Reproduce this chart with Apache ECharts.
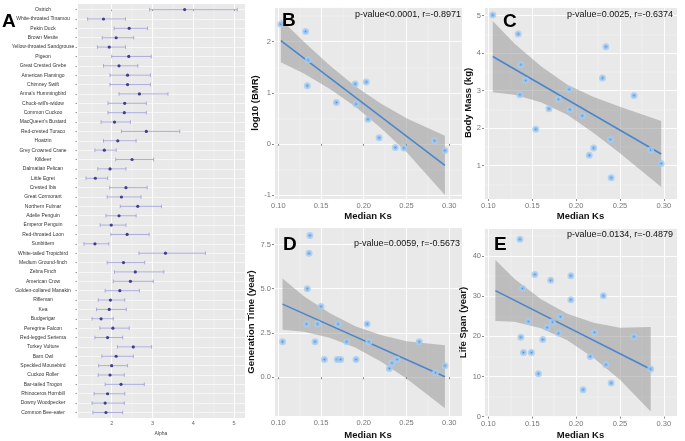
<!DOCTYPE html>
<html>
<head>
<meta charset="utf-8">
<script src="https://cdn.jsdelivr.net/npm/echarts@6/dist/echarts.min.js"></script>
<style>
html, body { margin: 0; padding: 0; background: #fff; }
#chart { width: 685px; height: 441px; }
</style>
</head>
<body>
<div id="chart"></div>
<script>
// panel A: alpha estimates per bird (mean with interval)
var birds = ['Ostrich', 'White-throated Tinamou', 'Pekin Duck', 'Brown Mesite', 'Yellow-throated Sandgrouse',
  'Pigeon', 'Great Crested Grebe', 'American Flamingo', 'Chimney Swift', "Anna's Hummingbird",
  "Chuck-will's-widow", 'Common Cuckoo', "MacQueen's Bustard", 'Red-crested Turaco', 'Hoatzin',
  'Grey Crowned Crane', 'Killdeer', 'Dalmatian Pelican', 'Little Egret', 'Crested Ibis',
  'Great Cormorant', 'Northern Fulmar', 'Adelie Penguin', 'Emperor Penguin', 'Red-throated Loon',
  'Sunbittern', 'White-tailed Tropicbird', 'Medium Ground-finch', 'Zebra Finch', 'American Crow',
  'Golden-collared Manakin', 'Rifleman', 'Kea', 'Budgerigar', 'Peregrine Falcon',
  'Red-legged Seriema', 'Turkey Vulture', 'Barn Owl', 'Speckled Mousebird', 'Cuckoo Roller',
  'Bar-tailed Trogon', 'Rhinoceros Hornbill', 'Downy Woodpecker', 'Common Bee-eater'];
var alphaMean = [3.79, 1.80, 2.43, 2.11, 1.94, 2.42, 2.18, 2.39, 2.39, 2.68,
  2.32, 2.31, 2.07, 2.85, 2.15, 1.82, 2.50, 1.96, 1.60, 2.35,
  2.24, 2.64, 2.18, 1.99, 2.38, 1.59, 3.32, 2.29, 2.58, 2.46,
  2.20, 1.97, 1.94, 1.74, 2.03, 1.90, 2.53, 2.11, 2.00, 1.96,
  2.23, 1.90, 1.84, 1.86];
var alphaLow = [2.93, 1.41, 2.06, 1.77, 1.65, 2.00, 1.80, 1.96, 1.96, 2.18,
  1.91, 1.91, 1.74, 2.24, 1.80, 1.59, 2.10, 1.66, 1.37, 1.95,
  1.89, 2.21, 1.86, 1.72, 1.98, 1.32, 2.67, 1.89, 2.07, 2.04,
  1.84, 1.67, 1.63, 1.52, 1.71, 1.59, 2.14, 1.76, 1.68, 1.67,
  1.84, 1.57, 1.52, 1.54];
var alphaHigh = [5.08, 2.34, 2.88, 2.54, 2.34, 2.97, 2.64, 2.95, 2.95, 3.38,
  2.85, 2.85, 2.46, 3.67, 2.60, 2.11, 3.03, 2.35, 1.90, 2.87,
  2.72, 3.22, 2.60, 2.35, 2.92, 1.93, 4.30, 2.81, 3.28, 3.02,
  2.68, 2.32, 2.36, 2.04, 2.43, 2.27, 2.98, 2.53, 2.39, 2.31,
  2.80, 2.32, 2.31, 2.27];

// panel B: log10 (BMR)
var bmrKs = [0.103, 0.132, 0.135, 0.134, 0.168, 0.190, 0.203, 0.191, 0.205, 0.218, 0.237, 0.247, 0.283, 0.295];
var bmrVal = [2.34, 2.20, 1.64, 1.14, 0.81, 1.17, 1.21, 0.78, 0.48, 0.12, -0.07, -0.08, 0.06, -0.13];
var bmrFitX = [0.103, 0.295];
var bmrFitY = [2.02, -0.42];
var bmrBandX = [0.103, 0.13, 0.16, 0.19, 0.22, 0.25, 0.295];
var bmrBandLow = [1.60, 1.38, 1.08, 0.73, 0.31, -0.16, -1.00];
var bmrBandHigh = [2.44, 2.00, 1.54, 1.13, 0.79, 0.50, 0.16];

// panel C: body mass
var massKs = [0.105, 0.134, 0.137, 0.1425, 0.136, 0.154, 0.169, 0.180, 0.192, 0.193, 0.207, 0.230, 0.234, 0.215, 0.220, 0.239, 0.240, 0.266, 0.285, 0.297];
var massVal = [5.02, 4.51, 3.69, 3.27, 2.89, 1.97, 2.52, 2.77, 3.04, 2.50, 2.33, 3.34, 4.17, 1.28, 1.47, 1.70, 0.68, 2.87, 1.42, 1.06];
var massFitX = [0.105, 0.297];
var massFitY = [3.91, 1.31];
var massBandX = [0.105, 0.13, 0.16, 0.19, 0.22, 0.25, 0.297];
var massBandLow = [2.96, 2.89, 2.69, 2.36, 1.87, 1.33, 0.43];
var massBandHigh = [4.86, 4.25, 3.65, 3.16, 2.83, 2.57, 2.19];

// panel D: generation time
var genKs = [0.105, 0.137, 0.136, 0.134, 0.133, 0.146, 0.143, 0.150, 0.154, 0.170, 0.169, 0.173, 0.180, 0.191, 0.204, 0.206, 0.230, 0.233, 0.239, 0.265, 0.284, 0.295];
var genVal = [2, 8, 7, 5, 3, 3, 2, 4, 1, 3, 1, 1, 2, 1, 3, 2, 0.5, 0.8, 1, 2, 0.25, 0.65];
var genFitX = [0.105, 0.295];
var genFitY = [4.13, 0.03];
var genBandX = [0.105, 0.13, 0.16, 0.19, 0.22, 0.25, 0.295];
var genBandLow = [2.68, 2.57, 2.23, 1.68, 0.89, -0.07, -1.75];
var genBandHigh = [5.58, 4.57, 3.63, 2.88, 2.39, 2.03, 1.81];
var genTicks = [0, 2.5, 5, 7.5];

// panel E: life span
var lifeKs = [0.136, 0.139, 0.153, 0.171, 0.194, 0.194, 0.231, 0.1455, 0.182, 0.173, 0.167, 0.180, 0.137, 0.162, 0.221, 0.266, 0.140, 0.149, 0.216, 0.234, 0.157, 0.208, 0.240, 0.285];
var lifeVal = [44.2, 31.9, 35.4, 34.0, 35.1, 29.1, 30.1, 23.7, 24.9, 23.6, 22.2, 20.8, 19.75, 19.2, 21.0, 19.9, 16.0, 16.0, 15.0, 12.9, 10.7, 6.7, 8.4, 11.85];
var lifeFitX = [0.108, 0.285];
var lifeFitY = [31.4, 11.8];
var lifeBandX = [0.108, 0.13, 0.16, 0.19, 0.22, 0.25, 0.285];
var lifeBandLow = [23.8, 23.66, 22.04, 19.02, 14.6, 9.17, 1.3];
var lifeBandHigh = [39.0, 34.26, 29.24, 25.62, 23.4, 22.17, 22.3];

var FONT = 'Liberation Sans';
var tickLabel = { color: '#777', fontSize: 7.5, fontFamily: FONT, margin: 3 };
var whiteLine = { show: true, lineStyle: { color: '#ffffff', width: 0.9 } };
var minorLine = { show: true, lineStyle: { color: '#f6f6f6', width: 0.45 } };
var tick = { show: true, length: 2, lineStyle: { color: '#888' } };

function ksAxis(idx, gap) {
  return {
    gridIndex: idx, type: 'value', min: 0.095, max: 0.315,
    name: 'Median Ks', nameLocation: 'middle', nameGap: gap,
    nameTextStyle: { fontFamily: FONT, fontWeight: 'bold', fontSize: 9.5, color: '#111' },
    axisLine: { show: false }, axisTick: tick,
    axisLabel: Object.assign({ showMinLabel: false, showMaxLabel: false,
      formatter: function (v) { return v.toFixed(2); } }, tickLabel),
    splitLine: whiteLine, minorTick: { show: false, splitNumber: 2 }, minorSplitLine: minorLine
  };
}

function valAxis(idx, min, max, title, gap, fmt, custom) {
  var ax = {
    gridIndex: idx, type: 'value', min: min, max: max,
    name: title, nameLocation: 'middle', nameGap: gap,
    nameTextStyle: { fontFamily: FONT, fontWeight: 'bold', fontSize: 9.5, color: '#111' },
    axisLine: { show: false }, axisTick: Object.assign({}, tick),
    axisLabel: Object.assign({ showMinLabel: false, showMaxLabel: false, formatter: fmt }, tickLabel),
    splitLine: whiteLine, minorTick: { show: false, splitNumber: 2 }, minorSplitLine: minorLine
  };
  if (custom) {
    ax.axisTick.customValues = custom;
    ax.axisLabel.customValues = custom;
    ax.axisLabel.showMinLabel = true;
    ax.axisLabel.showMaxLabel = true;
    ax.minorSplitLine = { show: false };
  }
  return ax;
}

function bandSeries(idx, xs, lo, hi) {
  return {
    type: 'custom', xAxisIndex: idx, yAxisIndex: idx, silent: true, z: 1,
    data: xs.map(function (x, i) { return [x, lo[i], hi[i]]; }),
    encode: { x: 0, y: [1, 2] },
    renderItem: function (params, api) {
      if (params.dataIndex !== 0) return null;
      var pts = [];
      for (var i = 0; i < xs.length; i++) pts.push(api.coord([xs[i], hi[i]]));
      for (var j = xs.length - 1; j >= 0; j--) pts.push(api.coord([xs[j], lo[j]]));
      return { type: 'polygon', shape: { points: pts }, style: { fill: 'rgba(145,145,145,0.5)' } };
    }
  };
}

function fitSeries(idx, xs, ys) {
  return {
    type: 'line', xAxisIndex: idx, yAxisIndex: idx, silent: true, z: 2,
    data: xs.map(function (x, i) { return [x, ys[i]]; }),
    showSymbol: false, lineStyle: { color: '#4a86cc', width: 1.6 }
  };
}

function pointSeries(idx, xs, ys) {
  return {
    type: 'scatter', xAxisIndex: idx, yAxisIndex: idx, z: 3,
    data: xs.map(function (x, i) { return [x, ys[i]]; }),
    symbolSize: 4,
    itemStyle: { color: '#3d78c0', borderColor: 'rgba(165,205,242,0.8)', borderWidth: 3, opacity: 1 }
  };
}

function letter(t, left, top) {
  return { text: t, left: left, top: top, padding: 0,
    textStyle: { fontSize: 19, fontWeight: 'bold', color: '#000', fontFamily: FONT } };
}

function pText(t, right, top) {
  return { text: t, right: right, top: top, padding: 0,
    textStyle: { fontSize: 9, fontWeight: 'normal', color: '#111', fontFamily: FONT } };
}

var gridBg = { show: true, backgroundColor: '#e9e9e9', borderWidth: 0 };

var chart = echarts.init(document.getElementById('chart'));
var option = {
  animation: false,
  textStyle: { fontFamily: FONT },
  grid: [
    Object.assign({ left: 77, top: 4, width: 168, height: 422 }, gridBg),
    Object.assign({ left: 274, top: 7, width: 188, height: 192 }, gridBg),
    Object.assign({ left: 484, top: 7, width: 193, height: 192 }, gridBg),
    Object.assign({ left: 274, top: 228, width: 188, height: 189 }, gridBg),
    Object.assign({ left: 484, top: 228, width: 193, height: 190 }, gridBg)
  ],
  title: [
    letter('A', 2, 12),
    letter('B', 282, 11),
    pText('p-value<0.0001, r=-0.8971', 224, 10),
    letter('C', 503, 12),
    pText('p-value=0.0025, r=-0.6374', 12, 10),
    letter('D', 283, 235),
    pText('p-value=0.0059, r=-0.5673', 225, 239),
    letter('E', 494, 235),
    pText('p-value=0.0134, r=-0.4879', 12, 230)
  ],
  xAxis: [
    {
      gridIndex: 0, type: 'value', min: 1.15, max: 5.27,
      name: 'Alpha', nameLocation: 'middle', nameGap: 9,
      nameTextStyle: { fontFamily: FONT, fontSize: 5, color: '#444' },
      axisLine: { show: false }, axisTick: { show: true, length: 1.5, lineStyle: { color: '#999' } },
      axisLabel: { showMinLabel: false, showMaxLabel: false, color: '#666', fontSize: 5.5, fontFamily: FONT, margin: 2 },
      splitLine: whiteLine, minorTick: { show: false, splitNumber: 2 }, minorSplitLine: minorLine
    },
    ksAxis(1, 11), ksAxis(2, 11), ksAxis(3, 14), ksAxis(4, 13)
  ],
  yAxis: [
    {
      gridIndex: 0, type: 'value', min: -0.6, max: 43.6, inverse: true,
      axisLine: { show: false },
      axisTick: { show: true, length: 1.5, lineStyle: { color: '#999' }, customValues: birds.map(function (b, i) { return i; }) },
      axisLabel: {
        customValues: birds.map(function (b, i) { return i; }),
        formatter: function (v) { return birds[Math.round(v)]; },
        color: '#333', fontSize: 5, fontFamily: FONT, margin: 34, align: 'center'
      },
      splitLine: { show: true, lineStyle: { color: '#ffffff', width: 0.6 } }
    },
    valAxis(1, -1.08, 2.68, 'log10 (BMR)', 11, function (v) { return String(v); }),
    valAxis(2, 0.11, 5.23, 'Body Mass (kg)', 9, function (v) { return String(v); }),
    valAxis(3, -2.19, 8.43, 'Generation Time (year)', 11, function (v) { return v.toFixed(1); }, genTicks),
    valAxis(4, -0.1, 47, 'Life Span (year)', 9, function (v) { return String(v); })
  ],
  series: [
    {
      type: 'custom', xAxisIndex: 0, yAxisIndex: 0, silent: true, z: 2,
      data: birds.map(function (b, i) { return [i, alphaLow[i], alphaHigh[i]]; }),
      encode: { x: [1, 2], y: 0 },
      renderItem: function (params, api) {
        var i = api.value(0);
        var p1 = api.coord([api.value(1), i]);
        var p2 = api.coord([api.value(2), i]);
        var st = { stroke: '#9a9ad8', lineWidth: 0.8 };
        return {
          type: 'group', children: [
            { type: 'line', shape: { x1: p1[0], y1: p1[1], x2: p2[0], y2: p2[1] }, style: st },
            { type: 'line', shape: { x1: p1[0], y1: p1[1] - 1.8, x2: p1[0], y2: p1[1] + 1.8 }, style: st },
            { type: 'line', shape: { x1: p2[0], y1: p2[1] - 1.8, x2: p2[0], y2: p2[1] + 1.8 }, style: st }
          ]
        };
      }
    },
    {
      type: 'scatter', xAxisIndex: 0, yAxisIndex: 0, z: 3,
      data: birds.map(function (b, i) { return [alphaMean[i], i]; }),
      symbolSize: 3.2, itemStyle: { color: '#3f3f8f', opacity: 1 }
    },
    bandSeries(1, bmrBandX, bmrBandLow, bmrBandHigh),
    fitSeries(1, bmrFitX, bmrFitY),
    pointSeries(1, bmrKs, bmrVal),
    bandSeries(2, massBandX, massBandLow, massBandHigh),
    fitSeries(2, massFitX, massFitY),
    pointSeries(2, massKs, massVal),
    bandSeries(3, genBandX, genBandLow, genBandHigh),
    fitSeries(3, genFitX, genFitY),
    pointSeries(3, genKs, genVal),
    bandSeries(4, lifeBandX, lifeBandLow, lifeBandHigh),
    fitSeries(4, lifeFitX, lifeFitY),
    pointSeries(4, lifeKs, lifeVal)
  ]
};
chart.setOption(option);
</script>
</body>
</html>
